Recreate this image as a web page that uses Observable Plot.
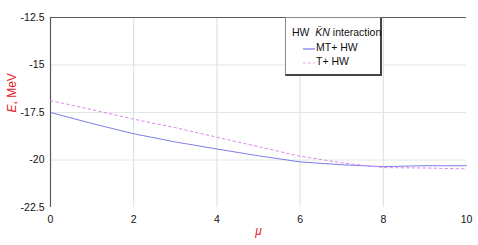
<!DOCTYPE html>
<html>
<head>
<meta charset="utf-8">
<script src="https://cdn.jsdelivr.net/npm/d3@7"></script>
<script src="https://cdn.jsdelivr.net/npm/@observablehq/plot@0.6"></script>
<style>
  html, body { margin: 0; padding: 0; background: #fff; }
  #wrap { position: relative; width: 478px; height: 245px; font-family: "Liberation Sans", Arial, sans-serif; }
  #legend { position: absolute; left: 285px; top: 17px; width: 97px; height: 59px; background: #fff;
    border: 1px solid #888; border-right: 2px solid #444; border-bottom: 2px solid #444; box-sizing: border-box;
    font-size: 10.5px; color: #111; }
  #legend .row { position: absolute; white-space: nowrap; }
  #legend svg { position: absolute; }
</style>
</head>
<body>
<div id="wrap"></div>
<script>
const mu = [0, 1, 2, 3, 4, 5, 6, 7, 8, 9, 10];
const mtHW = [-17.5, -18.08, -18.62, -19.05, -19.42, -19.78, -20.1, -20.25, -20.35, -20.3, -20.3];
const tHW = [-16.87, -17.35, -17.85, -18.3, -18.8, -19.3, -19.8, -20.15, -20.4, -20.42, -20.47];
const xTicks = [0, 2, 4, 6, 8, 10];
const yTicks = [-12.5, -15, -17.5, -20, -22.5];
const xGrid = [2, 4, 6, 8];
const yGrid = [-15, -17.5, -20];
const seriesNames = ["MT+ HW", "T+ HW"];

const rows = [];
mu.forEach((m, i) => {
  rows.push({mu: m, E: mtHW[i], s: seriesNames[0]});
  rows.push({mu: m, E: tHW[i], s: seriesNames[1]});
});

const plot = Plot.plot({
  width: 478,
  height: 245,
  marginLeft: 50,
  marginRight: 12,
  marginTop: 17,
  marginBottom: 38,
  style: {fontFamily: "'Liberation Sans', Arial, sans-serif", fontSize: "10px", background: "#fff", color: "#111"},
  x: {domain: [0, 10], label: null},
  y: {domain: [-22.5, -12.5], label: null},
  marks: [
    Plot.ruleX(xGrid, {stroke: "#d8dfdf", strokeWidth: 1}),
    Plot.ruleY(yGrid, {stroke: "#e2e6e6", strokeWidth: 1}),
    Plot.ruleY([-12.5], {stroke: "#555a5a", strokeWidth: 1.2}),
    Plot.ruleX([0], {stroke: "#555a5a", strokeWidth: 1.2}),
    Plot.axisX({ticks: xTicks, tickSize: 0, tickPadding: 8, tickFormat: d => String(d), fontSize: 10.5}),
    Plot.axisY({ticks: yTicks, tickSize: 0, tickPadding: 6, tickFormat: d => String(d), fontSize: 10.5}),
    Plot.line(rows.filter(d => d.s === seriesNames[0]), {x: "mu", y: "E", stroke: "#5a5ae6", strokeWidth: 1, strokeDasharray: "1,1", strokeOpacity: 0.9}),
    Plot.line(rows.filter(d => d.s === seriesNames[1]), {x: "mu", y: "E", stroke: "#d98ae8", strokeWidth: 1, strokeDasharray: "2.5,3"}),
    Plot.text(["μ"], {frameAnchor: "bottom", dy: 27, text: d => d, fill: "#e8202a", fontStyle: "italic", fontSize: 12}),
    Plot.text(["E, MeV"], {frameAnchor: "left", dx: -38, rotate: -90, text: d => d, fill: "#e8202a", fontSize: 12})
  ]
});

const wrap = document.getElementById("wrap");
wrap.appendChild(plot);

// style the y-label: italic E
const yl = Array.from(plot.querySelectorAll("text")).find(t => t.textContent === "E, MeV");
if (yl) {
  yl.textContent = "";
  const ns = "http://www.w3.org/2000/svg";
  const a = document.createElementNS(ns, "tspan"); a.setAttribute("font-style", "italic"); a.textContent = "E";
  const b = document.createElementNS(ns, "tspan"); b.textContent = ", MeV";
  yl.appendChild(a); yl.appendChild(b);
}

const legend = document.createElement("div");
legend.id = "legend";
legend.innerHTML = `
  <div class="row" style="left:6px;top:8px;">HW&nbsp; <i>K̄N</i> interaction</div>
  <svg style="left:17px;top:28px" width="12" height="6"><line x1="0" y1="3" x2="12" y2="3" stroke="#5a5ae6" stroke-width="1"/></svg>
  <div class="row" style="left:30px;top:23px;">${seriesNames[0]}</div>
  <svg style="left:17px;top:42px" width="12" height="6"><line x1="0" y1="3" x2="12" y2="3" stroke="#e9a8f0" stroke-width="1" stroke-dasharray="3,2"/></svg>
  <div class="row" style="left:30px;top:37px;">${seriesNames[1]}</div>`;
wrap.appendChild(legend);
</script>
</body>
</html>
